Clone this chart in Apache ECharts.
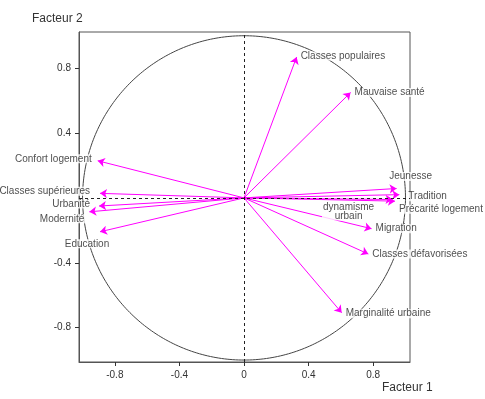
<!DOCTYPE html>
<html>
<head>
<meta charset="utf-8">
<script src="https://cdn.jsdelivr.net/npm/echarts@6/dist/echarts.min.js"></script>
<style>
  html, body { margin: 0; padding: 0; background: #fff; }
  #chart { width: 485px; height: 399px; }
</style>
</head>
<body>
<div id="chart"></div>
<script>
// variables du cercle des corrélations
const variables = ['Classes populaires', 'Mauvaise santé', 'Confort logement', 'Classes supérieures',
  'Urbanité', 'Modernité', 'Education', 'Jeunesse', 'Tradition', 'Précarité logement',
  'dynamisme\nurbain', 'Migration', 'Classes défavorisées', 'Marginalité urbaine'];
const facteur1 = [0.326, 0.66, -0.906, -0.892, -0.898, -0.958, -0.892, 0.945, 0.962, 0.935, 0.92, 0.79, 0.77, 0.605];
const facteur2 = [0.869, 0.65, 0.229, 0.028, -0.05, -0.086, -0.209, 0.058, 0.02, -0.02, -0.01, -0.19, -0.346, -0.708];
const xTicks = [-0.8, -0.4, 0, 0.4, 0.8];
const yTicks = [-0.8, -0.4, 0.4, 0.8];

// placement des étiquettes (align, décalage px)
const labelPos = [
  ['left', [3, -1]], ['left', [3, 0]], ['right', [-5, -2]], ['right', [-9, -2]],
  ['right', [-8, -2]], ['right', [-4, 7]], ['center', [-13, 12]], ['center', [14, -12]],
  ['left', [8, 2]], ['left', [3, 8]], ['center', [-44, 12]], ['left', [3, 0]],
  ['left', [3, 0]], ['left', [3, 1]]
];

const font = 'Liberation Sans, Arial, sans-serif';
const myChart = echarts.init(document.getElementById('chart'));

myChart.setOption({
  animation: false,
  grid: { left: 79, right: 75, top: 32, bottom: 37, show: true, borderColor: '#555', borderWidth: 1 },
  graphic: [
    { type: 'text', left: 32, top: 13, style: { text: 'Facteur 2', fontSize: 12, fontFamily: font, fill: '#333' } },
    { type: 'text', left: 382, top: 382, style: { text: 'Facteur 1', fontSize: 12, fontFamily: font, fill: '#333' } }
  ],
  xAxis: {
    type: 'value', min: -1.022, max: 1.028,
    splitLine: { show: false },
    axisLine: { show: true, onZero: false, lineStyle: { color: '#555' } },
    axisTick: { show: true, length: 4, customValues: xTicks, lineStyle: { color: '#333' } },
    axisLabel: { customValues: xTicks, margin: 8, fontSize: 10, fontFamily: font, color: '#333' }
  },
  yAxis: {
    type: 'value', min: -1.012, max: 1.023,
    splitLine: { show: false },
    axisLine: { show: true, onZero: false, lineStyle: { color: '#555' } },
    axisTick: { show: true, length: 4, customValues: yTicks, lineStyle: { color: '#333' } },
    axisLabel: { customValues: yTicks, margin: 8, fontSize: 10, fontFamily: font, color: '#333' }
  },
  series: [
    {
      // cercle unité
      type: 'custom',
      silent: true,
      z: 1,
      data: [[0, 0, 1]],
      renderItem: (params, api) => {
        const r = api.value(2);
        const pts = [];
        for (let i = 0; i <= 360; i++) {
          const t = i * Math.PI / 180;
          pts.push(api.coord([r * Math.cos(t), r * Math.sin(t)]));
        }
        return { type: 'polyline', shape: { points: pts }, style: { stroke: '#444', fill: 'none', lineWidth: 1 } };
      },
      markLine: {
        silent: true,
        symbol: 'none',
        label: { show: false },
        lineStyle: { color: '#222', type: [3, 3], width: 1 },
        data: [{ xAxis: 0 }, { yAxis: 0 }]
      }
    },
    {
      type: 'lines',
      coordinateSystem: 'cartesian2d',
      z: 3,
      symbol: ['none', 'arrow'],
      symbolSize: 7,
      lineStyle: { color: '#ff00ff', width: 1, opacity: 1 },
      data: variables.map((name, i) => ({ coords: [[0, 0], [facteur1[i], facteur2[i]]] }))
    },
    {
      type: 'scatter',
      z: 4,
      symbolSize: 1,
      itemStyle: { color: 'transparent' },
      data: variables.map((name, i) => ({
        name: name,
        value: [facteur1[i], facteur2[i]],
        label: {
          show: true,
          position: 'inside',
          formatter: '{b}',
          align: labelPos[i][0],
          verticalAlign: 'middle',
          offset: labelPos[i][1],
          fontSize: 10,
          lineHeight: 9,
          fontFamily: font,
          color: '#222',
          backgroundColor: '#fff',
          padding: [0, 1]
        }
      }))
    }
  ]
});
</script>
</body>
</html>
